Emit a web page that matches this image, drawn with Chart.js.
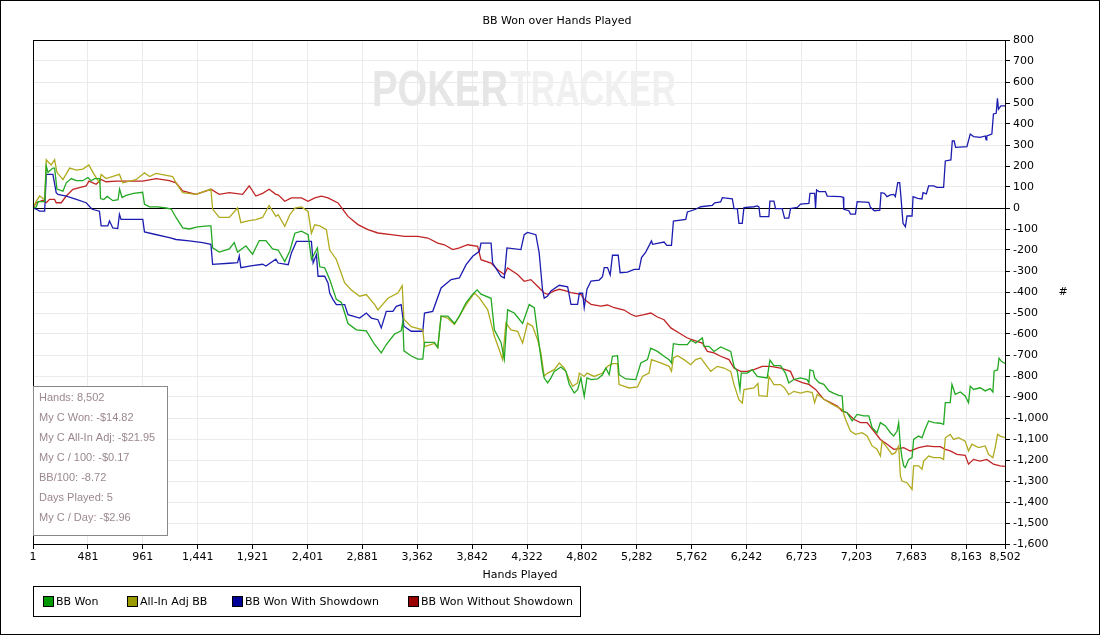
<!DOCTYPE html>
<html lang="en">
<head>
    <meta charset="UTF-8">
    <title>BB Won over Hands Played</title>
    <script src="https://cdn.jsdelivr.net/npm/chart.js"></script>
    <style>
        html, body { margin: 0; padding: 0; background: #fff; }
        canvas { display: block; }
    </style>
</head>
<body>
    <canvas id="graph" width="1100" height="635"></canvas>

    <script>
        // x axis tick labels (hand numbers)
        const xTicks = [1, 481, 961, 1441, 1921, 2401, 2881, 3362, 3842, 4322, 4802, 5282, 5762, 6242, 6723, 7203, 7683, 8163, 8502];

        // BB Won (green)
        const wonHands = [1, 30, 45, 103, 117, 132, 175, 190, 210, 263, 292, 336, 380, 437, 481, 510, 540, 585, 592, 620, 650, 700, 745, 758, 780, 815, 880, 960, 976, 1020, 1090, 1165, 1210, 1252, 1310, 1368, 1440, 1535, 1557, 1572, 1630, 1718, 1761, 1790, 1863, 1921, 1980, 2038, 2096, 2145, 2203, 2247, 2291, 2349, 2407, 2436, 2488, 2509, 2552, 2596, 2654, 2698, 2756, 2829, 2916, 2989, 3047, 3091, 3163, 3221, 3236, 3245, 3309, 3367, 3410, 3425, 3512, 3541, 3570, 3629, 3687, 3730, 3789, 3847, 3885, 3919, 4007, 4036, 4094, 4123, 4152, 4210, 4283, 4341, 4385, 4414, 4457, 4472, 4502, 4531, 4560, 4618, 4662, 4691, 4735, 4764, 4793, 4822, 4846, 4881, 4939, 4982, 5011, 5040, 5069, 5113, 5127, 5186, 5273, 5317, 5375, 5404, 5462, 5520, 5564, 5585, 5602, 5652, 5724, 5753, 5797, 5855, 5870, 5913, 5957, 6015, 6103, 6132, 6161, 6184, 6195, 6248, 6291, 6335, 6422, 6446, 6481, 6539, 6582, 6611, 6655, 6713, 6771, 6787, 6796, 6825, 6837, 6874, 6918, 6962, 7005, 7049, 7078, 7087, 7121, 7165, 7209, 7267, 7311, 7340, 7383, 7412, 7456, 7500, 7529, 7558, 7572, 7587, 7601, 7616, 7630, 7660, 7689, 7703, 7747, 7776, 7805, 7834, 7878, 7936, 7965, 7980, 8023, 8038, 8067, 8111, 8154, 8183, 8198, 8227, 8285, 8329, 8372, 8396, 8407, 8437, 8450, 8470, 8502];
        const wonBB = [0, 5, 30, 30, 200, 170, 190, 190, 90, 80, 120, 140, 130, 130, 145, 130, 140, 140, 45, 40, 55, 35, 40, 90, 50, 60, 70, 75, 17, 5, 5, 0, -5, -45, -95, -100, -90, -85, -85, -190, -210, -195, -165, -210, -180, -220, -155, -155, -195, -200, -255, -205, -120, -110, -127, -245, -190, -280, -285, -340, -435, -450, -550, -580, -585, -650, -690, -650, -600, -585, -540, -680, -705, -720, -720, -640, -640, -665, -515, -515, -550, -515, -450, -410, -390, -410, -430, -580, -640, -720, -485, -500, -550, -460, -475, -595, -770, -810, -833, -809, -778, -757, -778, -841, -881, -865, -809, -897, -809, -817, -814, -794, -762, -794, -706, -703, -794, -814, -817, -738, -722, -667, -683, -706, -722, -738, -646, -651, -651, -630, -643, -619, -659, -659, -683, -662, -683, -754, -778, -865, -786, -786, -770, -802, -809, -725, -751, -751, -786, -833, -817, -809, -817, -832, -771, -776, -808, -832, -840, -871, -883, -892, -895, -967, -975, -1014, -983, -990, -990, -1046, -1070, -1022, -1038, -1070, -1086, -1062, -1022, -1133, -1189, -1228, -1236, -1197, -1189, -1102, -1086, -1094, -1051, -1014, -1022, -1025, -1030, -927, -927, -840, -887, -876, -895, -927, -848, -864, -856, -871, -860, -876, -776, -771, -715, -730, -740];

        // All-In Adj BB (olive)
        const adjHands = [1, 30, 59, 103, 117, 140, 160, 190, 210, 263, 321, 380, 437, 490, 525, 582, 597, 640, 757, 786, 902, 976, 1020, 1078, 1223, 1252, 1310, 1426, 1557, 1572, 1630, 1718, 1790, 1819, 1892, 1950, 2009, 2066, 2125, 2145, 2203, 2247, 2291, 2349, 2407, 2436, 2465, 2509, 2567, 2596, 2654, 2727, 2785, 2858, 2916, 2989, 3018, 3105, 3192, 3230, 3245, 3309, 3410, 3425, 3512, 3541, 3570, 3629, 3687, 3789, 3861, 3905, 3978, 4036, 4079, 4108, 4137, 4181, 4239, 4283, 4326, 4370, 4414, 4443, 4472, 4502, 4560, 4604, 4648, 4691, 4720, 4764, 4779, 4822, 4846, 4910, 4982, 5026, 5069, 5113, 5127, 5215, 5288, 5331, 5389, 5410, 5491, 5564, 5585, 5602, 5637, 5695, 5753, 5797, 5841, 5884, 5928, 5986, 6044, 6103, 6132, 6175, 6204, 6219, 6306, 6341, 6350, 6422, 6437, 6481, 6539, 6574, 6611, 6655, 6713, 6771, 6816, 6837, 6860, 6918, 6991, 7078, 7107, 7150, 7194, 7252, 7296, 7340, 7383, 7412, 7427, 7471, 7514, 7543, 7572, 7587, 7601, 7645, 7689, 7703, 7747, 7776, 7791, 7834, 7878, 7936, 7965, 7980, 8023, 8052, 8096, 8154, 8183, 8212, 8270, 8329, 8358, 8396, 8416, 8437, 8460, 8502];
        const adjBB = [0, 33, 57, 40, 230, 215, 205, 230, 170, 135, 190, 180, 185, 205, 170, 120, 160, 140, 160, 120, 135, 168, 150, 165, 150, 120, 73, 65, 90, -5, -45, -45, 0, -70, -60, -55, -45, 12, -40, -32, -87, -32, 0, 5, -16, -120, -80, -85, -103, -200, -245, -357, -390, -420, -412, -460, -485, -430, -405, -370, -530, -565, -580, -660, -645, -665, -515, -525, -555, -460, -405, -428, -485, -610, -675, -722, -548, -580, -587, -643, -548, -563, -627, -690, -800, -786, -770, -738, -762, -817, -849, -833, -786, -802, -786, -802, -786, -754, -741, -741, -841, -857, -852, -802, -786, -722, -738, -754, -778, -714, -703, -722, -746, -722, -714, -746, -778, -754, -762, -778, -841, -913, -929, -865, -857, -836, -894, -897, -802, -841, -841, -857, -889, -873, -881, -873, -879, -927, -887, -911, -935, -959, -1006, -1062, -1078, -1070, -1086, -1133, -1149, -1181, -1110, -1141, -1173, -1165, -1133, -1276, -1300, -1308, -1340, -1228, -1228, -1244, -1205, -1181, -1189, -1189, -1197, -1094, -1078, -1102, -1094, -1110, -1157, -1125, -1141, -1133, -1173, -1189, -1141, -1078, -1086, -1094];

        // BB Won With Showdown (blue)
        const sdHands = [1, 30, 59, 103, 117, 175, 204, 219, 292, 380, 466, 518, 582, 597, 655, 670, 699, 742, 757, 771, 961, 976, 1063, 1194, 1252, 1368, 1484, 1557, 1572, 1718, 1790, 1805, 1819, 1906, 2009, 2038, 2125, 2145, 2233, 2261, 2305, 2436, 2451, 2480, 2494, 2552, 2581, 2596, 2625, 2654, 2727, 2756, 2858, 2916, 2960, 3018, 3047, 3091, 3149, 3178, 3221, 3245, 3309, 3410, 3425, 3497, 3570, 3658, 3730, 3789, 3847, 3905, 3919, 4007, 4021, 4094, 4123, 4146, 4268, 4297, 4326, 4399, 4428, 4457, 4472, 4502, 4531, 4604, 4677, 4706, 4764, 4779, 4808, 4822, 4846, 4881, 4953, 4982, 4997, 5026, 5049, 5069, 5119, 5136, 5200, 5259, 5302, 5323, 5360, 5410, 5420, 5520, 5544, 5585, 5602, 5710, 5724, 5797, 5841, 5942, 5963, 6015, 6030, 6117, 6132, 6161, 6175, 6204, 6219, 6306, 6335, 6350, 6360, 6437, 6446, 6481, 6495, 6553, 6574, 6611, 6626, 6685, 6714, 6787, 6796, 6837, 6845, 6854, 6874, 6932, 6947, 7063, 7087, 7092, 7136, 7151, 7194, 7209, 7311, 7325, 7360, 7407, 7418, 7447, 7470, 7500, 7529, 7543, 7564, 7581, 7593, 7610, 7631, 7645, 7689, 7698, 7738, 7776, 7785, 7814, 7834, 7878, 7907, 7965, 7980, 8029, 8041, 8058, 8070, 8169, 8198, 8227, 8285, 8329, 8337, 8343, 8387, 8401, 8425, 8436, 8445, 8466, 8502];
        const sdBB = [0, -6, -15, -15, 160, 160, 73, 65, 57, 41, 25, -6, -15, -85, -85, -62, -95, -98, -30, -54, -54, -114, -125, -141, -150, -157, -165, -173, -268, -263, -260, -228, -284, -276, -268, -276, -244, -262, -270, -214, -159, -159, -262, -222, -325, -325, -357, -405, -436, -460, -460, -508, -524, -500, -524, -532, -571, -492, -492, -468, -460, -563, -587, -587, -500, -492, -381, -341, -333, -270, -230, -206, -167, -167, -262, -325, -333, -190, -198, -127, -116, -127, -214, -389, -429, -419, -395, -368, -375, -459, -459, -406, -406, -475, -387, -348, -343, -327, -284, -284, -319, -225, -225, -308, -305, -292, -292, -236, -210, -157, -173, -162, -178, -178, -62, -54, -19, -6, 6, 13, 25, 29, 49, 44, -3, -3, -73, -73, 2, 6, 10, 5, -41, -41, 33, 33, -3, -3, -48, -48, -3, 3, 19, 22, 70, 70, 0, 86, 78, 78, 57, 54, 51, -6, -13, -29, -29, 30, 27, 3, -13, -10, 73, 70, 54, 62, 65, 54, 121, 121, 46, -73, -89, -38, -38, 54, 46, 43, 73, 67, 105, 105, 98, 98, 224, 229, 319, 319, 289, 292, 352, 340, 336, 343, 324, 343, 352, 448, 451, 522, 470, 486, 486];

        // BB Won Without Showdown (red)
        const nsdHands = [1, 30, 88, 117, 146, 190, 204, 248, 292, 350, 408, 466, 490, 553, 597, 640, 728, 843, 960, 1078, 1194, 1252, 1310, 1426, 1557, 1630, 1718, 1834, 1892, 1950, 2009, 2066, 2125, 2145, 2203, 2261, 2349, 2407, 2465, 2523, 2581, 2669, 2712, 2756, 2843, 2930, 3018, 3134, 3250, 3367, 3454, 3541, 3599, 3672, 3730, 3803, 3890, 3919, 4007, 4065, 4123, 4152, 4239, 4297, 4355, 4414, 4472, 4502, 4560, 4604, 4662, 4706, 4793, 4822, 4881, 4968, 5026, 5084, 5171, 5230, 5273, 5346, 5404, 5462, 5520, 5579, 5652, 5724, 5782, 5855, 5899, 5957, 6015, 6088, 6132, 6190, 6248, 6306, 6379, 6452, 6539, 6626, 6656, 6729, 6787, 6845, 6918, 6976, 7034, 7078, 7121, 7179, 7238, 7296, 7354, 7412, 7471, 7529, 7572, 7616, 7674, 7747, 7820, 7878, 7936, 7980, 8023, 8082, 8154, 8183, 8227, 8285, 8343, 8401, 8460, 8502];
        const nsdBB = [0, 25, 37, 25, 41, 41, 25, 25, 57, 89, 97, 105, 128, 113, 136, 125, 128, 128, 128, 140, 130, 120, 81, 65, 89, 65, 73, 65, 105, 57, 70, 89, 65, 63, 32, 48, 48, 32, 48, 56, 48, 24, -8, -40, -79, -103, -119, -127, -135, -135, -143, -167, -175, -198, -190, -175, -183, -246, -262, -294, -317, -286, -317, -349, -341, -373, -405, -411, -395, -387, -395, -403, -411, -435, -459, -467, -462, -475, -486, -506, -516, -508, -500, -519, -532, -571, -595, -619, -630, -643, -683, -690, -706, -722, -762, -778, -778, -770, -754, -754, -762, -778, -816, -832, -840, -864, -911, -927, -943, -967, -975, -1006, -1022, -1022, -1062, -1102, -1125, -1149, -1146, -1141, -1157, -1141, -1133, -1136, -1136, -1149, -1157, -1173, -1178, -1220, -1197, -1205, -1197, -1220, -1228, -1230];

        const seriesNames = ['BB Won', 'All-In Adj BB', 'BB Won With Showdown', 'BB Won Without Showdown'];
        const lineColors = ['#22a822', '#b0aa1e', '#1c1cb0', '#c02424'];
        const keyColors = ['#009900', '#999900', '#000099', '#990000'];

        const statLines = ['Hands: 8,502', 'My C Won: -$14.82', 'My C All-In Adj: -$21.95', 'My C / 100: -$0.17', 'BB/100: -8.72', 'Days Played: 5', 'My C / Day: -$2.96'];

        function pairs(hands, vals) {
            return hands.map((h, i) => ({ x: h, y: vals[i] }));
        }

        function fmt(v) {
            return Number(v).toLocaleString('en-US');
        }

        const FONT = '"DejaVu Sans", sans-serif';

        // everything the library doesn't draw for us: frames, watermark, stats, legend
        const decor = {
            id: 'decor',
            beforeDraw(chart) {
                const c = chart.ctx;
                c.save();
                c.fillStyle = '#fff';
                c.fillRect(0, 0, chart.width, chart.height);
                c.restore();
            },
            beforeDatasetsDraw(chart) {
                const c = chart.ctx;
                const a = chart.chartArea;
                c.save();
                // watermark
                c.font = 'bold 50px "Liberation Sans", sans-serif';
                c.textBaseline = 'alphabetic';
                c.textAlign = 'left';
                c.fillStyle = '#e6e6e6';
                c.fillText('POKER', 372, 106, 136);
                c.fillStyle = '#f0f0f0';
                c.fillText('TRACKER', 510, 106, 166);
                // zero line
                const y0 = Math.round(chart.scales.y.getPixelForValue(0)) + 0.5;
                c.strokeStyle = '#000';
                c.lineWidth = 1;
                c.beginPath();
                c.moveTo(a.left, y0);
                c.lineTo(a.right, y0);
                c.stroke();
                c.restore();
            },
            afterDraw(chart) {
                const c = chart.ctx;
                const a = chart.chartArea;
                c.save();
                c.strokeStyle = '#000';
                c.lineWidth = 1;
                c.strokeRect(Math.round(a.left) + 0.5, Math.round(a.top) + 0.5, Math.round(a.right - a.left), Math.round(a.bottom - a.top));

                // title + axis titles
                c.fillStyle = '#000';
                c.font = '11px ' + FONT;
                c.textAlign = 'center';
                c.textBaseline = 'middle';
                c.fillText('BB Won over Hands Played', 557, 21);
                c.fillText('Hands Played', 520, 575);
                c.fillText('#', 1063, 292);

                // stats box
                c.fillStyle = '#fff';
                c.fillRect(34, 387, 133, 148);
                c.strokeStyle = '#888';
                c.strokeRect(33.5, 386.5, 134, 149);
                c.fillStyle = '#9a8790';
                c.font = '11px "Liberation Sans", sans-serif';
                c.textAlign = 'left';
                statLines.forEach((t, i) => c.fillText(t, 39, 398 + i * 20));

                // legend
                c.strokeStyle = '#000';
                c.strokeRect(33.5, 586.5, 547, 30);
                const keyX = [43, 127, 232, 408];
                c.font = '11px ' + FONT;
                seriesNames.forEach((n, i) => {
                    c.fillStyle = keyColors[i];
                    c.fillRect(keyX[i], 596, 10, 10);
                    c.strokeStyle = '#000';
                    c.strokeRect(keyX[i] + 0.5, 596.5, 10, 10);
                    c.fillStyle = '#000';
                    c.fillText(n, keyX[i] + 13, 602);
                });

                // outer frame
                c.strokeStyle = '#000';
                c.strokeRect(0.5, 0.5, chart.width - 1, chart.height - 1);
                c.restore();
            }
        };

        Chart.defaults.font.family = FONT;
        Chart.defaults.font.size = 11;
        Chart.defaults.color = '#000';

        const rawData = [pairs(wonHands, wonBB), pairs(adjHands, adjBB), pairs(sdHands, sdBB), pairs(nsdHands, nsdBB)];

        new Chart(document.getElementById('graph'), {
            type: 'line',
            data: {
                datasets: seriesNames.map((n, i) => ({
                    label: n,
                    data: rawData[i],
                    borderColor: lineColors[i],
                    backgroundColor: keyColors[i],
                    borderWidth: 1.3,
                    pointRadius: 0,
                    tension: 0,
                    fill: false
                }))
            },
            options: {
                responsive: false,
                animation: false,
                devicePixelRatio: 1,
                layout: { padding: { left: 33, top: 40, right: 0, bottom: 0 } },
                plugins: {
                    legend: { display: false },
                    title: { display: false },
                    tooltip: { enabled: false }
                },
                scales: {
                    x: {
                        type: 'linear',
                        min: 1,
                        max: 8502,
                        afterBuildTicks(scale) {
                            scale.ticks = xTicks.map(v => ({ value: v }));
                        },
                        afterFit(scale) { scale.height = 91; },
                        grid: { color: '#ebebeb', tickColor: '#000', tickLength: 5 },
                        border: { display: true, color: '#000' },
                        ticks: {
                            autoSkip: false,
                            maxRotation: 0,
                            padding: 2,
                            callback: v => fmt(v)
                        }
                    },
                    y: {
                        position: 'right',
                        min: -1600,
                        max: 800,
                        afterFit(scale) { scale.width = 95; },
                        grid: { color: '#ebebeb', tickColor: '#000', tickLength: 5 },
                        border: { display: true, color: '#000' },
                        ticks: {
                            stepSize: 100,
                            padding: 3,
                            callback: v => fmt(v)
                        }
                    }
                }
            },
            plugins: [decor]
        });
    </script>
</body>
</html>
